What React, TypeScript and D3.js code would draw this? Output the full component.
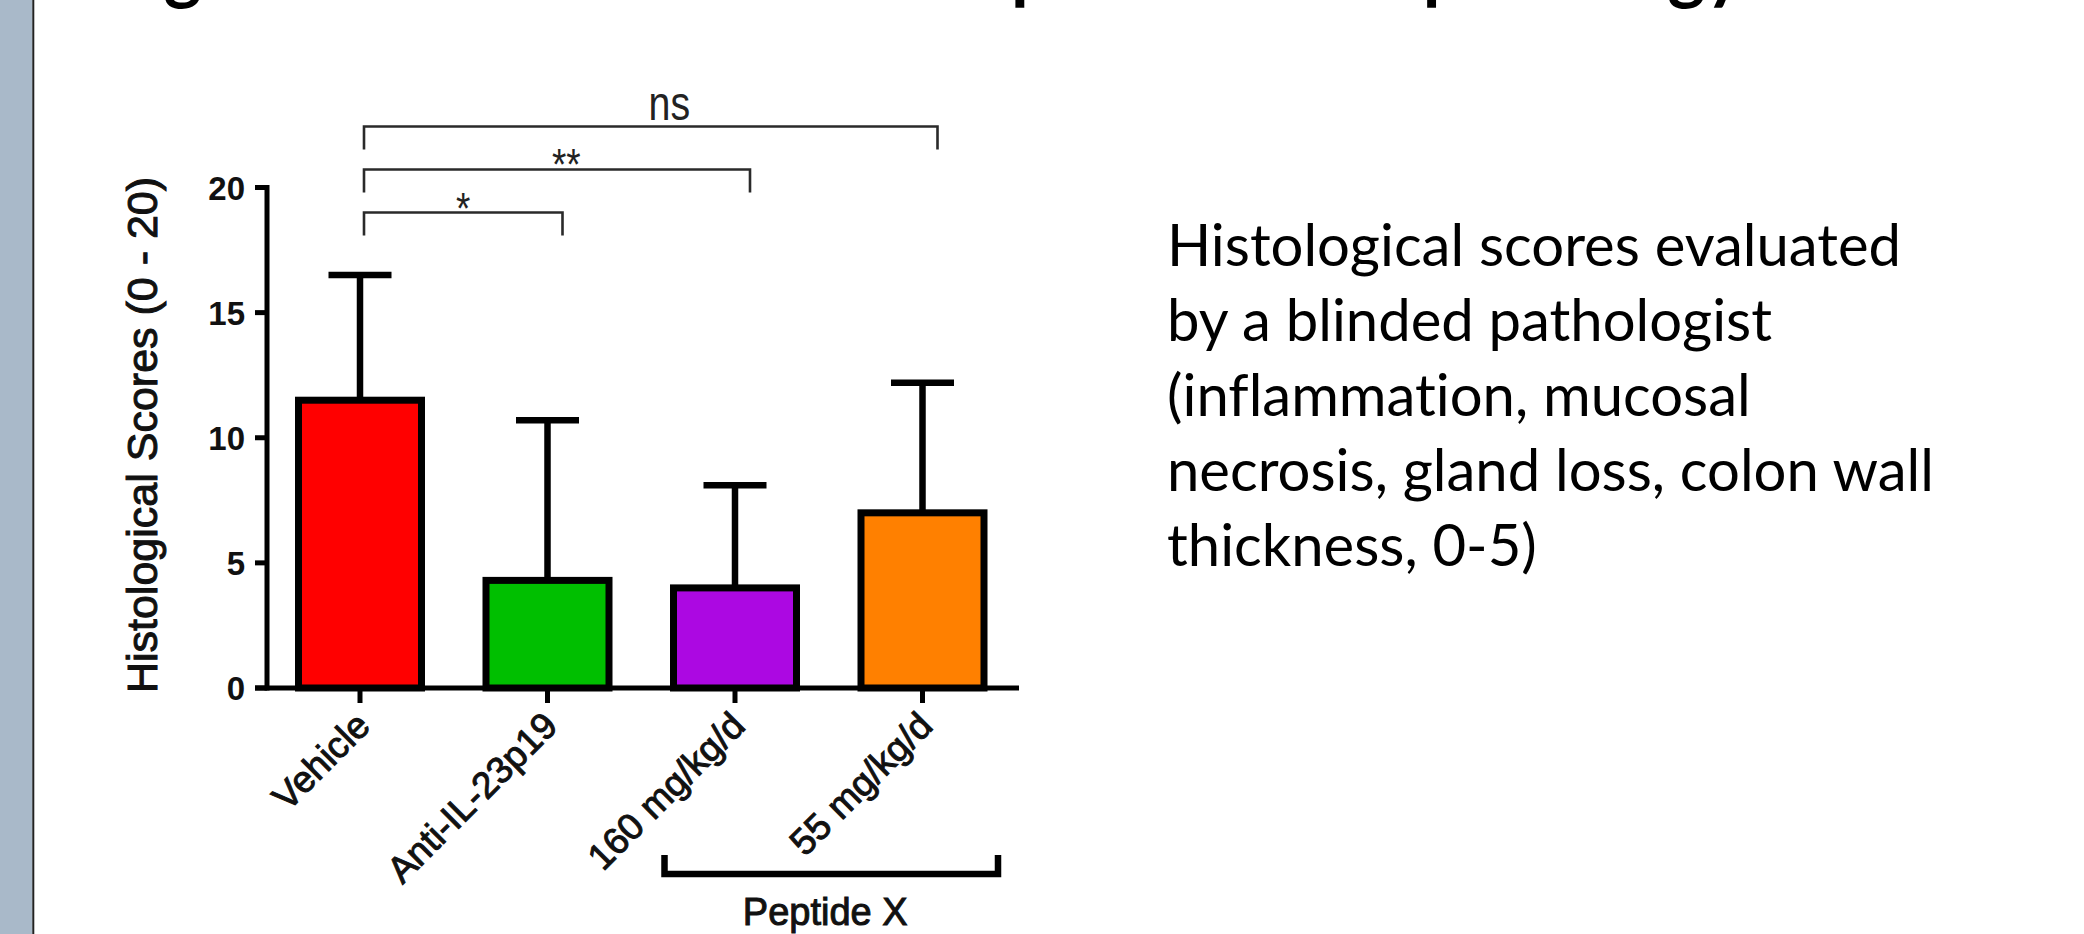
import React, { useEffect } from "react";
import * as d3 from "d3";

// chart values
const groups = ["Vehicle", "Anti-IL-23p19", "160 mg/kg/d", "55 mg/kg/d"];
const means = [11.5, 4.3, 4.0, 7.0];
const errors = [5.0, 6.4, 4.1, 5.2];
const barColors = ["#FF0000", "#00BF00", "#AC08E2", "#FF8000"];
const yTicks = [0, 5, 10, 15, 20];
const yTitle = "Histological Scores (0 - 20)";

// significance brackets, always against Vehicle
const compareTo = [1, 2, 3];
const compareLabels = ["*", "**", "ns"];

const peptideGroups = ["160 mg/kg/d", "55 mg/kg/d"];
const peptideLabel = "Peptide X";

const noteLines = [
  "Histological scores evaluated",
  "by a blinded pathologist",
  "(inflammation, mucosal",
  "necrosis, gland loss, colon wall",
  "thickness, 0-5)",
];

// slide title, cut off by the top edge
const titleParts = ["Significant Benefit:", "Improved", "Histopathology"];

const W = 2084;
const H = 934;

function App() {
  useEffect(() => {
    document.body.style.margin = "0";
    document.body.style.overflow = "hidden";
  }, []);

  const yScale = d3.scaleLinear().domain([0, 20]).range([688, 187.5]);
  const xScale = d3.scalePoint<string>().domain(groups).range([360, 922.5]);

  const barW = 123;
  const capW = 63;
  const axisX = 267;
  const axisY = yScale(0);
  const arial = "'Liberation Sans', Arial, sans-serif";
  const calibri = "Lato, 'Open Sans', sans-serif";
  // medium-ish weight for the prism labels
  const medium = { stroke: "#111", strokeWidth: 1 };

  const c0 = xScale(groups[0]) as number;

  return (
    <svg width={W} height={H} style={{ display: "block", background: "#fff" }}>
      {/* left slide strip */}
      <rect x={0} y={0} width={32.5} height={H} fill="#A9B9C9" />
      <line x1={33.3} x2={33.3} y1={0} y2={H} stroke="#222" strokeWidth={2} />

      {/* title (only descenders visible) */}
      <text y={-5} fontFamily={calibri} fontWeight={700} fontSize={72} fill="#000">
        <tspan x={106}>{titleParts[0]}</tspan>
        <tspan x={930}>{titleParts[1]}</tspan>
        <tspan x={1250}>{titleParts[2]}</tspan>
      </text>

      {/* y axis */}
      <line x1={axisX} x2={axisX} y1={axisY + 2.5} y2={yScale(20) - 2.5} stroke="#000" strokeWidth={5} />
      {yTicks.map((t) => (
        <g key={t}>
          <line x1={255} x2={axisX} y1={yScale(t)} y2={yScale(t)} stroke="#000" strokeWidth={5} />
          <text
            x={245}
            y={yScale(t) + 12}
            textAnchor="end"
            fontFamily={arial}
            fontWeight={700}
            fontSize={33}
            fill="#111"
          >
            {t}
          </text>
        </g>
      ))}
      <text
        transform={`translate(157, 435) rotate(-90)`}
        textAnchor="middle"
        fontFamily={arial}
        fontSize={43}
        fill="#111"
        {...medium}
      >
        {yTitle}
      </text>

      {/* error bars */}
      {groups.map((g, i) => {
        const cx = xScale(g) as number;
        const top = yScale(means[i] + errors[i]);
        return (
          <g key={"e" + g} stroke="#000" strokeWidth={6.5}>
            <line x1={cx} x2={cx} y1={yScale(means[i])} y2={top} />
            <line x1={cx - capW / 2} x2={cx + capW / 2} y1={top} y2={top} />
          </g>
        );
      })}

      {/* bars */}
      {groups.map((g, i) => {
        const cx = xScale(g) as number;
        const y = yScale(means[i]);
        return (
          <rect
            key={"b" + g}
            x={cx - barW / 2}
            y={y}
            width={barW}
            height={axisY - y}
            fill={barColors[i]}
            stroke="#000"
            strokeWidth={7}
          />
        );
      })}

      {/* x axis */}
      <line x1={255} x2={1019} y1={axisY} y2={axisY} stroke="#000" strokeWidth={5} />
      {groups.map((g) => {
        const cx = xScale(g) as number;
        return (
          <g key={"t" + g}>
            <line x1={cx} x2={cx} y1={axisY} y2={axisY + 15} stroke="#000" strokeWidth={5} />
            <text
              transform={`translate(${cx + 12}, ${axisY + 40}) rotate(-45)`}
              textAnchor="end"
              fontFamily={arial}
              fontSize={37}
              fill="#111"
              {...medium}
            >
              {g}
            </text>
          </g>
        );
      })}

      {/* significance brackets */}
      {compareTo.map((j, k) => {
        const c1 = xScale(groups[j]) as number;
        const yLine = yScale(19 + k * 1.72);
        const yEnd = yLine + 23;
        const x1 = c0 + 4;
        const x2 = c1 + 15;
        const lx = c0 + 0.55 * (c1 - c0);
        const isNs = compareLabels[k] === "ns";
        return (
          <g key={"s" + j}>
            <path
              d={`M${x1},${yEnd}V${yLine}H${x2}V${yEnd}`}
              fill="none"
              stroke="#2a2a2a"
              strokeWidth={2.6}
            />
            <text
              transform={`translate(${lx}, ${isNs ? yLine - 6 : yLine + 11}) scale(0.82,1)`}
              textAnchor="middle"
              fontFamily={arial}
              fontSize={isNs ? 48 : 45}
              fill="#222"
            >
              {compareLabels[k]}
            </text>
          </g>
        );
      })}

      {/* Peptide X group bracket */}
      {(() => {
        const a = (xScale(peptideGroups[0]) as number) - barW / 2 - 9;
        const b = (xScale(peptideGroups[1]) as number) + barW / 2 + 14;
        const yb = 874;
        return (
          <g>
            <path
              d={`M${a},855V${yb}H${b}V855`}
              fill="none"
              stroke="#000"
              strokeWidth={6.5}
            />
            <text
              x={(a + b) / 2 - 6}
              y={925}
              textAnchor="middle"
              fontFamily={arial}
              fontSize={38}
              fill="#111"
              {...medium}
            >
              {peptideLabel}
            </text>
          </g>
        );
      })()}

      {/* note text */}
      <text
        fontFamily={calibri}
        fontSize={58}
        fill="#000"
        style={{ fontVariantLigatures: "none" }}
      >
        {noteLines.map((l, i) => (
          <tspan key={i} x={1167} y={266 + i * 75}>
            {l}
          </tspan>
        ))}
      </text>
    </svg>
  );
}

export default App;
